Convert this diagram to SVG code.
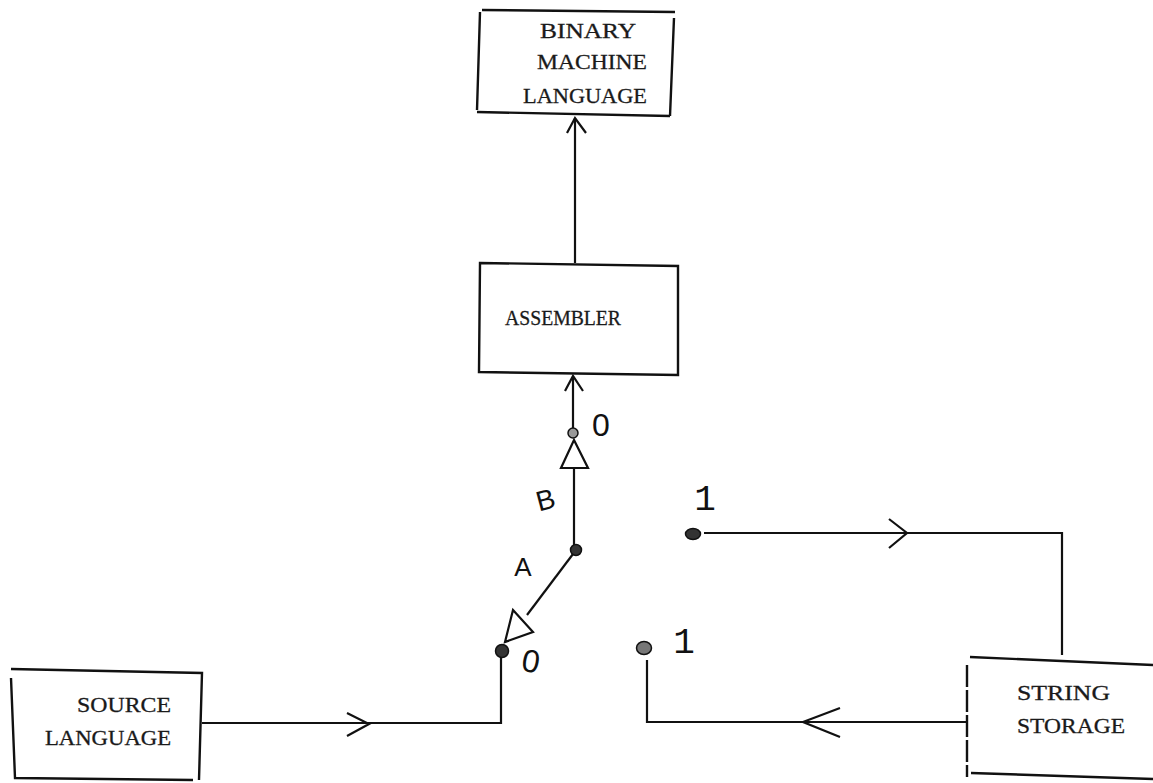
<svg xmlns="http://www.w3.org/2000/svg" width="1153" height="783" viewBox="0 0 1153 783">
<style>
.b{fill:none;stroke:#111;stroke-width:2.4}
.c{fill:none;stroke:#111;stroke-width:2.2}
.t{font-family:"Liberation Serif","DejaVu Serif",serif;font-size:22px;fill:#1a1a1a;stroke:#1a1a1a;stroke-width:.3}
.h{font-family:"Liberation Sans",sans-serif;fill:#111;text-anchor:middle}
.m{font-family:"Liberation Mono",monospace;fill:#111;text-anchor:middle;font-size:36px}
.d{fill:#333;stroke:#111;stroke-width:1.5}
.g{fill:#fff;stroke:#111;stroke-width:2.2}
</style>
<rect width="1153" height="783" fill="#fff"/>
<g id="connectors">
<path class="c" d="M575 118V263"/>
<path class="c" d="M567 133L575 118L586 133"/>
<path class="c" d="M573 377V428"/>
<path class="c" d="M565 391L573 376L583 391"/>
<path class="c" d="M574 468V546"/>
<path class="c" d="M573 554L527 615"/>
<path class="c" d="M202 723H501V657"/>
<path class="c" d="M347 713L369 724L347 736"/>
<path class="c" d="M704 533H1062V655"/>
<path class="c" d="M889 519L907 533L889 548"/>
<path class="c" d="M966 722H647V660"/>
<path class="c" d="M840 708L803 722L840 737"/>
</g>
<g id="binary-machine-language">
<path class="b" d="M482 10L675 12M674 18L670 116M477 112L670 116M480 12L477 110"/>
<text class="t" x="540" y="38" textLength="96" lengthAdjust="spacingAndGlyphs">BINARY</text>
<text class="t" x="537" y="69" textLength="110" lengthAdjust="spacingAndGlyphs">MACHINE</text>
<text class="t" x="523" y="103" textLength="124" lengthAdjust="spacingAndGlyphs">LANGUAGE</text>
</g>
<g id="assembler">
<path class="b" d="M480 263L678 266V375L479 372Z"/>
<text class="t" x="505" y="325" textLength="116" lengthAdjust="spacingAndGlyphs">ASSEMBLER</text>
</g>
<g id="source-language">
<path class="b" d="M11 669L202 673L199 780M11 678L15 778L193 780"/>
<text class="t" x="77" y="712" textLength="94" lengthAdjust="spacingAndGlyphs">SOURCE</text>
<text class="t" x="45" y="745" textLength="126" lengthAdjust="spacingAndGlyphs">LANGUAGE</text>
</g>
<g id="string-storage">
<path class="b" d="M970 657L1153 665M971 773L1153 779"/>
<path class="b" d="M967 665V777" stroke-dasharray="22 3"/>
<text class="t" x="1017" y="700" textLength="93" lengthAdjust="spacingAndGlyphs">STRING</text>
<text class="t" x="1017" y="733" textLength="108" lengthAdjust="spacingAndGlyphs">STORAGE</text>
</g>
<g id="gate-b">
<path class="g" d="M574 440L588 468L561 468Z"/>
<circle class="d" cx="573" cy="433" r="5" style="fill:#999"/>
</g>
<g id="gate-a">
<path class="g" d="M513 610L533 632L505 642Z"/>
<circle class="d" cx="502" cy="651" r="6.5"/>
</g>
<g id="joint"><circle class="d" cx="576" cy="550" r="5.5"/></g>
<g id="terminal-upper"><ellipse class="d" cx="693" cy="534" rx="7.5" ry="5.5"/></g>
<g id="terminal-lower"><ellipse class="d" cx="644" cy="648" rx="7.5" ry="6.5" style="fill:#777"/></g>
<g id="labels">
<text class="h" font-size="32" x="601" y="436">0</text>
<text class="h" font-size="28" x="548" y="509" transform="rotate(-15 548 509)">B</text>
<text class="h" font-size="26" x="523" y="576">A</text>
<text class="h" font-size="32" x="529" y="672" transform="rotate(10 529 672)">0</text>
<text class="m" x="705" y="510">1</text>
<text class="m" x="684" y="653">1</text>
</g>
</svg>
